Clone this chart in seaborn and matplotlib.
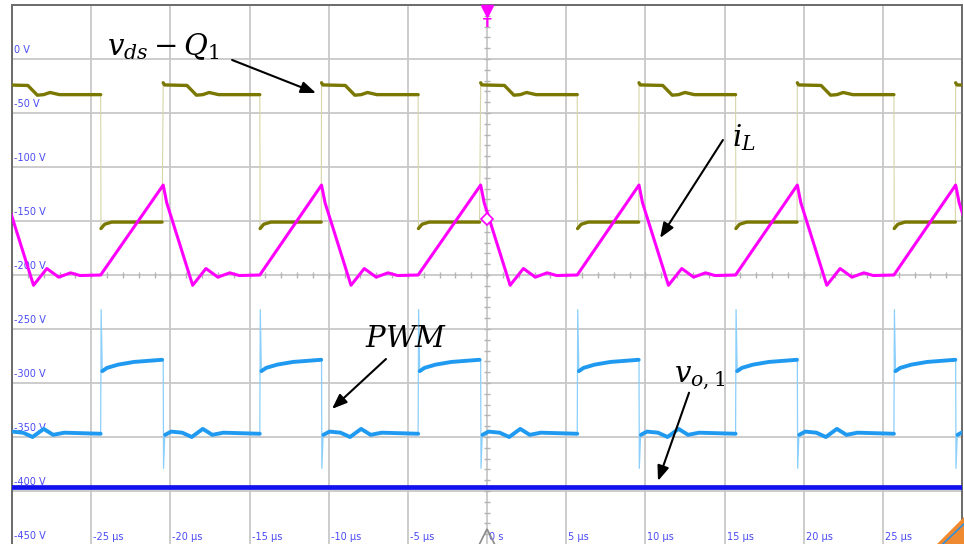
import numpy as np
import pandas as pd
import matplotlib
matplotlib.use("Agg")
import matplotlib.pyplot as plt
import seaborn as sns
from matplotlib.patches import Polygon

# --- data (time in us, level in V) ---
# rising edges of v_ds (start of each switching period)
rise_times = [-30.5, -20.45, -10.45, -0.4, 9.6, 19.6, 29.6]

# v_ds - Q1 : high plateau and low plateau (offsets from rising edge)
vds_high_t = [0.0, 0.08, 1.5, 2.1, 2.5, 2.9, 3.5, 6.1]
vds_high_v = [-22, -24, -24.5, -33.5, -33, -31, -33, -33]
vds_low_t = [6.12, 6.35, 6.8, 9.98]
vds_low_v = [-157, -153, -151, -151]

# inductor current trace
il_t = [0.0, 0.22, 1.86, 2.7, 3.45, 4.2, 4.8, 6.1]
il_v = [-116.7, -133, -209.5, -194, -202, -198, -200.5, -200]

# PWM trace
pwm_low_t = [0.12, 0.5, 1.2, 1.8, 2.5, 3.1, 3.8, 6.1]
pwm_low_v = [-348, -345, -346, -350, -342.5, -348, -346, -347]
pwm_high_t = [6.2, 6.5, 7.2, 8.2, 9.98]
pwm_high_v = [-289, -286, -283, -280.5, -278.5]
pwm_spike_down = -379
pwm_spike_up = -232

# output voltage (flat)
vo1_level = -396.5

y_ticks = [0, -50, -100, -150, -200, -250, -300, -350, -400, -450]
y_labels = ["0 V", "-50 V", "-100 V", "-150 V", "-200 V", "-250 V",
            "-300 V", "-350 V", "-400 V", "-450 V"]
x_ticks = [-25, -20, -15, -10, -5, 0, 5, 10, 15, 20, 25]
x_labels = ["-25 µs", "-20 µs", "-15 µs", "-10 µs", "-5 µs", "0 s",
            "5 µs", "10 µs", "15 µs", "20 µs", "25 µs"]

C_VDS = "#7a7800"
C_VDS_EDGE = "#d6d6a8"
C_IL = "#ff00ff"
C_PWM = "#1f9af0"
C_PWM_EDGE = "#8ccffa"
C_VO = "#1212ee"
C_LBL = "#4a4af5"
C_GRID = "#c8c8c8"


def tile(offsets, values, name, per_period=True):
    rows = []
    for k, t0 in enumerate(rise_times):
        unit = f"{name}{k}" if per_period else name
        for o, v in zip(offsets, values):
            rows.append((t0 + o, v, unit))
    return pd.DataFrame(rows, columns=["t", "v", "seg"])


# thin "full" traces including the switching edges
vds_full = tile(vds_high_t + vds_low_t, vds_high_v + vds_low_v, "vds", per_period=False)
pwm_full_t = [0.0, 0.02, 0.1] + pwm_low_t + [6.1, 6.13, 6.2] + pwm_high_t
pwm_full_v = [pwm_high_v[-1], pwm_spike_down, pwm_low_v[0]] + pwm_low_v + \
             [pwm_low_v[-1], pwm_spike_up, pwm_high_v[0]] + pwm_high_v
pwm_full = tile(pwm_full_t, pwm_full_v, "pwm", per_period=False)

# thick plateau pieces
vds_thick = pd.concat([tile(vds_high_t, vds_high_v, "h"), tile(vds_low_t, vds_low_v, "l")])
pwm_thick = pd.concat([tile(pwm_low_t, pwm_low_v, "l"), tile(pwm_high_t, pwm_high_v, "h")])
il_df = tile(il_t, il_v, "il", per_period=False)
vo_df = pd.DataFrame({"t": [-30, 30], "v": [vo1_level, vo1_level]})

sns.set_style("white")
plt.rcParams["mathtext.fontset"] = "dejavuserif"
fig = plt.figure(figsize=(9.64, 5.44), dpi=100)
ax = fig.add_axes([12 / 964, -1 / 544, 950 / 964, 540 / 544])
ax.set_xlim(-30, 30)
ax.set_ylim(-450, 50)

# graticule
ax.set_xticks(np.arange(-30, 31, 5))
ax.set_yticks(np.arange(-450, 51, 50))
ax.grid(True, color=C_GRID, lw=1.3)
ax.tick_params(length=0, labelbottom=False, labelleft=False)
for s in ax.spines.values():
    s.set_color("#6a6a6a")
    s.set_linewidth(1.4)

# minor ticks on the centre cross
ax.plot(np.zeros(51), np.arange(-450, 51, 10), ls="none", marker="_", ms=5,
        color="#b4b4b4", mew=1, zorder=1)
ax.plot(np.arange(-30, 31, 1), np.full(61, -200), ls="none", marker="|", ms=5,
        color="#b4b4b4", mew=1, zorder=1)

for v, lbl in zip(y_ticks, y_labels):
    ax.text(-29.85, v + 8, lbl, color=C_LBL, fontsize=7, va="center", ha="left", zorder=1)
for t, lbl in zip(x_ticks, x_labels):
    ax.text(t + 0.13, -442.5, lbl, color=C_LBL, fontsize=7, va="center", ha="left", zorder=1)

# traces
sns.lineplot(data=vds_full, x="t", y="v", units="seg", estimator=None, sort=False,
             color=C_VDS_EDGE, lw=0.8, ax=ax, zorder=3)
sns.lineplot(data=vds_thick, x="t", y="v", units="seg", estimator=None, sort=False,
             color=C_VDS, lw=2.4, ax=ax, zorder=4)
sns.lineplot(data=pwm_full, x="t", y="v", units="seg", estimator=None, sort=False,
             color=C_PWM_EDGE, lw=0.9, ax=ax, zorder=3)
sns.lineplot(data=pwm_thick, x="t", y="v", units="seg", estimator=None, sort=False,
             color=C_PWM, lw=2.8, ax=ax, zorder=4)
sns.lineplot(data=vo_df, x="t", y="v", estimator=None, sort=False,
             color=C_VO, lw=3.4, ax=ax, zorder=4)
sns.lineplot(data=il_df, x="t", y="v", units="seg", estimator=None, sort=False,
             color=C_IL, lw=2.2, ax=ax, zorder=5)
ax.set_xlabel("")
ax.set_ylabel("")

# trigger / reference markers
ax.plot([0], [44.0], marker="v", ms=8, color=C_IL, ls="none", zorder=6, clip_on=False)
ax.text(0, 33.0, "T", color=C_IL, fontsize=9, fontweight="bold", ha="center", va="center", zorder=6)
ax.plot([0], [-148], marker="D", ms=6, mfc="white", mec=C_IL, mew=1.2, ls="none", zorder=6)
ax.plot([0], [-443], marker="^", ms=12, mfc="none", mec="#8a8a8a", mew=1.2, ls="none",
        zorder=6, clip_on=False)

# annotations
arrow = dict(arrowstyle="-|>,head_length=0.9,head_width=0.35", color="black", lw=1.5,
             shrinkA=0, shrinkB=0)
ax.annotate("", xy=(-10.8, -31.5), xytext=(-16.1, -0.9), arrowprops=arrow, zorder=7)
ax.annotate("", xy=(10.93, -165.7), xytext=(14.9, -75), arrowprops=arrow, zorder=7)
ax.annotate("", xy=(-9.79, -324), xytext=(-6.38, -277.8), arrowprops=arrow, zorder=7)
ax.annotate("", xy=(10.8, -390.7), xytext=(12.76, -309), arrowprops=arrow, zorder=7)
ax.text(-20.46, 11, r"$v_{ds}-Q_1$", fontsize=21, color="black", ha="center", va="center", zorder=7)
ax.text(16.2, -73, r"$i_L$", fontsize=21, color="black", ha="center", va="center", zorder=7)
ax.text(-5.12, -259, r"$PWM$", fontsize=21, color="black", ha="center", va="center", zorder=7)
ax.text(13.45, -295, r"$v_{o,1}$", fontsize=21, color="black", ha="center", va="center", zorder=7)

# little orange corner badge of the scope UI
fig.patches.append(Polygon([[0.972, 0.0], [1.0, 0.0], [1.0, 0.05]], closed=True,
                           transform=fig.transFigure, color="#f08a30", zorder=10))
fig.lines.append(plt.Line2D([0.978, 1.0], [0.0, 0.037], transform=fig.transFigure,
                            color="#3090e0", lw=1.2, zorder=11))

fig.savefig("out.png", dpi=100)
